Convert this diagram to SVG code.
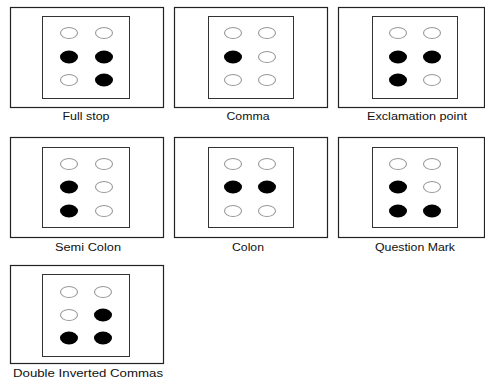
<svg xmlns="http://www.w3.org/2000/svg" width="485" height="383" viewBox="0 0 485 383">
<style>
.outer{fill:none;stroke:#222;stroke-width:1.2}
.inner{fill:none;stroke:#333;stroke-width:1}
.o{fill:#fff;stroke:#999;stroke-width:1.1}
.f{fill:#000}
.lbl{font-family:"Liberation Sans",Arial,sans-serif;font-size:10px;fill:#111;text-anchor:middle}
</style>
<rect width="485" height="383" fill="#fff"/>
<defs>
<ellipse id="od" class="o" rx="8.5" ry="5.5"/>
<ellipse id="fd" class="f" rx="9" ry="6.5"/>
</defs>
<g id="full-stop">
<rect class="outer" x="10.5" y="7.5" width="153" height="100"/>
<rect class="inner" x="42.5" y="16.5" width="87" height="82"/>
<use href="#od" x="69" y="33"/><use href="#od" x="104" y="33"/>
<use href="#fd" x="69" y="57"/><use href="#fd" x="104" y="57"/>
<use href="#od" x="69" y="80"/><use href="#fd" x="104" y="80"/>
<text class="lbl" x="86" y="120" textLength="47" lengthAdjust="spacingAndGlyphs">Full stop</text>
</g>
<g id="comma">
<rect class="outer" x="174.5" y="7.5" width="153" height="100"/>
<rect class="inner" x="208.5" y="16.5" width="85" height="82"/>
<use href="#od" x="233" y="33"/><use href="#od" x="267" y="33"/>
<use href="#fd" x="233" y="57"/><use href="#od" x="267" y="57"/>
<use href="#od" x="233" y="80"/><use href="#od" x="267" y="80"/>
<text class="lbl" x="248" y="120" textLength="43" lengthAdjust="spacingAndGlyphs">Comma</text>
</g>
<g id="exclamation-point">
<rect class="outer" x="338.5" y="7.5" width="146" height="100"/>
<rect class="inner" x="372.5" y="16.5" width="85" height="82"/>
<use href="#od" x="398" y="33"/><use href="#od" x="432" y="33"/>
<use href="#fd" x="398" y="57"/><use href="#fd" x="432" y="57"/>
<use href="#fd" x="398" y="80"/><use href="#od" x="432" y="80"/>
<text class="lbl" x="417" y="120" textLength="100" lengthAdjust="spacingAndGlyphs">Exclamation point</text>
</g>
<g id="semi-colon">
<rect class="outer" x="10.5" y="137.5" width="153" height="100"/>
<rect class="inner" x="42.5" y="147.5" width="87" height="80"/>
<use href="#od" x="69" y="164"/><use href="#od" x="104" y="164"/>
<use href="#fd" x="69" y="187"/><use href="#od" x="104" y="187"/>
<use href="#fd" x="69" y="211"/><use href="#od" x="104" y="211"/>
<text class="lbl" x="88" y="251" textLength="66" lengthAdjust="spacingAndGlyphs">Semi Colon</text>
</g>
<g id="colon">
<rect class="outer" x="174.5" y="137.5" width="153" height="100"/>
<rect class="inner" x="208.5" y="147.5" width="85" height="80"/>
<use href="#od" x="233" y="164"/><use href="#od" x="267" y="164"/>
<use href="#fd" x="233" y="187"/><use href="#fd" x="267" y="187"/>
<use href="#od" x="233" y="211"/><use href="#od" x="267" y="211"/>
<text class="lbl" x="248" y="251" textLength="32" lengthAdjust="spacingAndGlyphs">Colon</text>
</g>
<g id="question-mark">
<rect class="outer" x="338.5" y="137.5" width="146" height="100"/>
<rect class="inner" x="372.5" y="147.5" width="85" height="80"/>
<use href="#od" x="398" y="164"/><use href="#od" x="432" y="164"/>
<use href="#fd" x="398" y="187"/><use href="#od" x="432" y="187"/>
<use href="#fd" x="398" y="211"/><use href="#fd" x="432" y="211"/>
<text class="lbl" x="415" y="251" textLength="80" lengthAdjust="spacingAndGlyphs">Question Mark</text>
</g>
<g id="double-inverted-commas">
<rect class="outer" x="10.5" y="265.5" width="153" height="98"/>
<rect class="inner" x="42.5" y="274.5" width="87" height="82"/>
<use href="#od" x="69" y="292"/><use href="#od" x="103" y="292"/>
<use href="#od" x="69" y="315"/><use href="#fd" x="103" y="315"/>
<use href="#fd" x="69" y="338"/><use href="#fd" x="103" y="338"/>
<text class="lbl" x="88" y="377" textLength="150" lengthAdjust="spacingAndGlyphs">Double Inverted Commas</text>
</g>
<g id="connectors"/>
</svg>
